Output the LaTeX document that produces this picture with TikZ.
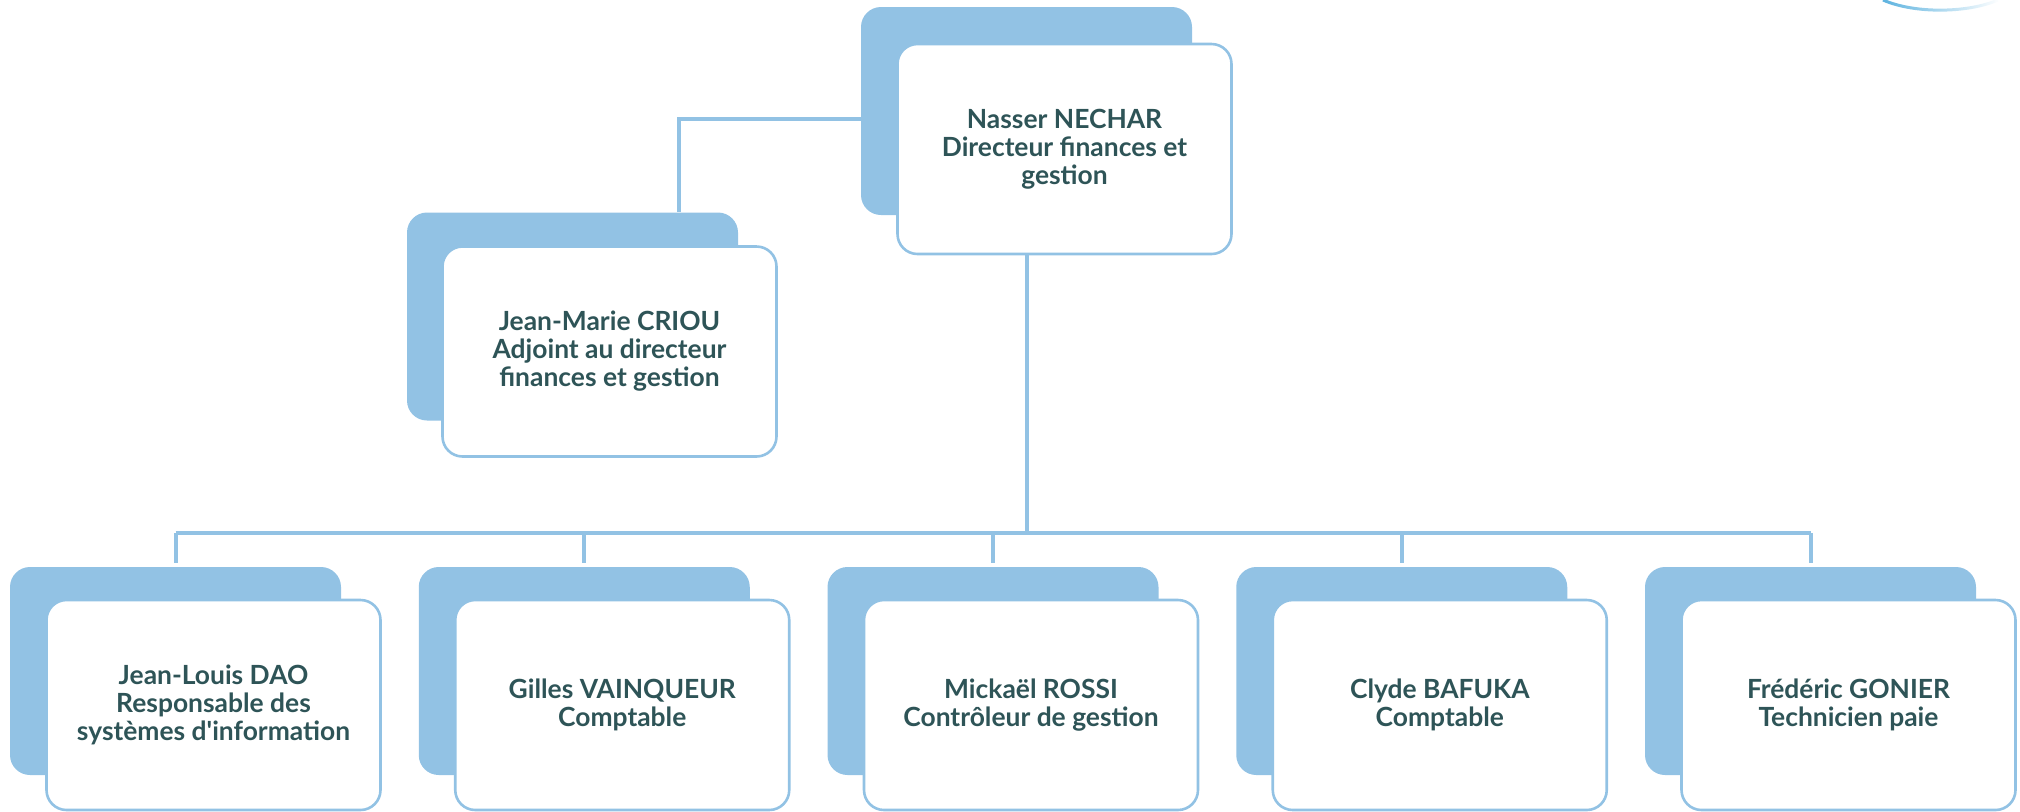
\documentclass[tikz,border=0pt]{standalone}
\usepackage{fontspec}
\setmainfont{Lato}
\usetikzlibrary{fadings}

\definecolor{boxblue}{HTML}{92C2E4}
\definecolor{arcblue}{HTML}{5CB2DF}
\definecolor{nametext}{HTML}{2E5457}

\tikzfading[name=arcfade, left color=transparent!0, right color=transparent!100]

\tikzset{
    backbox/.style={fill=boxblue, rounded corners=10pt, inner sep=0pt,
        minimum width=165.5pt, minimum height=104pt},
    frontbox/.style={draw=boxblue, fill=white, line width=1.3pt, rounded corners=10pt,
        inner sep=0pt, minimum width=167pt, minimum height=105pt, align=center,
        text=nametext, font=\bfseries\fontsize{13.2}{14}\selectfont},
    link/.style={draw=boxblue, line width=2pt}
}

\begin{document}
\begin{tikzpicture}[x=0.5pt, y=-0.5pt]
    \useasboundingbox (0,0) rectangle (2020,811);

    % Decorative arc, top right
    \draw[arcblue, line width=1.5pt, path fading=arcfade]
        (1883,0) .. controls (1915,14) and (1968,13) .. (1998,0);

    % Director and deputy
    \node[backbox] (dirback) at (1026.5,111) {};
    \node[frontbox] (dir) at (1064.5,149) {Nasser NECHAR\\Directeur finances et\\gestion};
    \node[backbox] (adjback) at (572.5,316.5) {};
    \node[frontbox] (adj) at (609.5,351.5) {Jean-Marie CRIOU\\Adjoint au directeur\\finances et gestion};

    \coordinate (adjtap) at (679,119);
    \coordinate (bus) at (0,533);
    \draw[link] (adjback.north -| adjtap) -- (adjtap) -- (adjtap -| dirback.west);

    % Staff row
    \foreach \i/\txt in {0/{Jean-Louis DAO\\Responsable des\\syst\`emes d\textquotesingle information},
                         1/{Gilles VAINQUEUR\\Comptable},
                         2/{Micka\"el ROSSI\\Contr\^oleur de gestion},
                         3/{Clyde BAFUKA\\Comptable},
                         4/{Fr\'ed\'eric GONIER\\Technicien paie}} {
        \node[backbox] (back\i) at (175.5+408.75*\i,671) {};
        \node[frontbox] (staff\i) at (213.5+408.75*\i,705) {\txt};
        \draw[link, shorten <=2pt] (back\i.north) -- (back\i.north |- bus);
    }

    \draw[link] (back0.north |- bus) -- (back4.north |- bus);
    \draw[link] (dirback.south |- dir.south) -- (dirback.south |- bus);
\end{tikzpicture}
\end{document}
